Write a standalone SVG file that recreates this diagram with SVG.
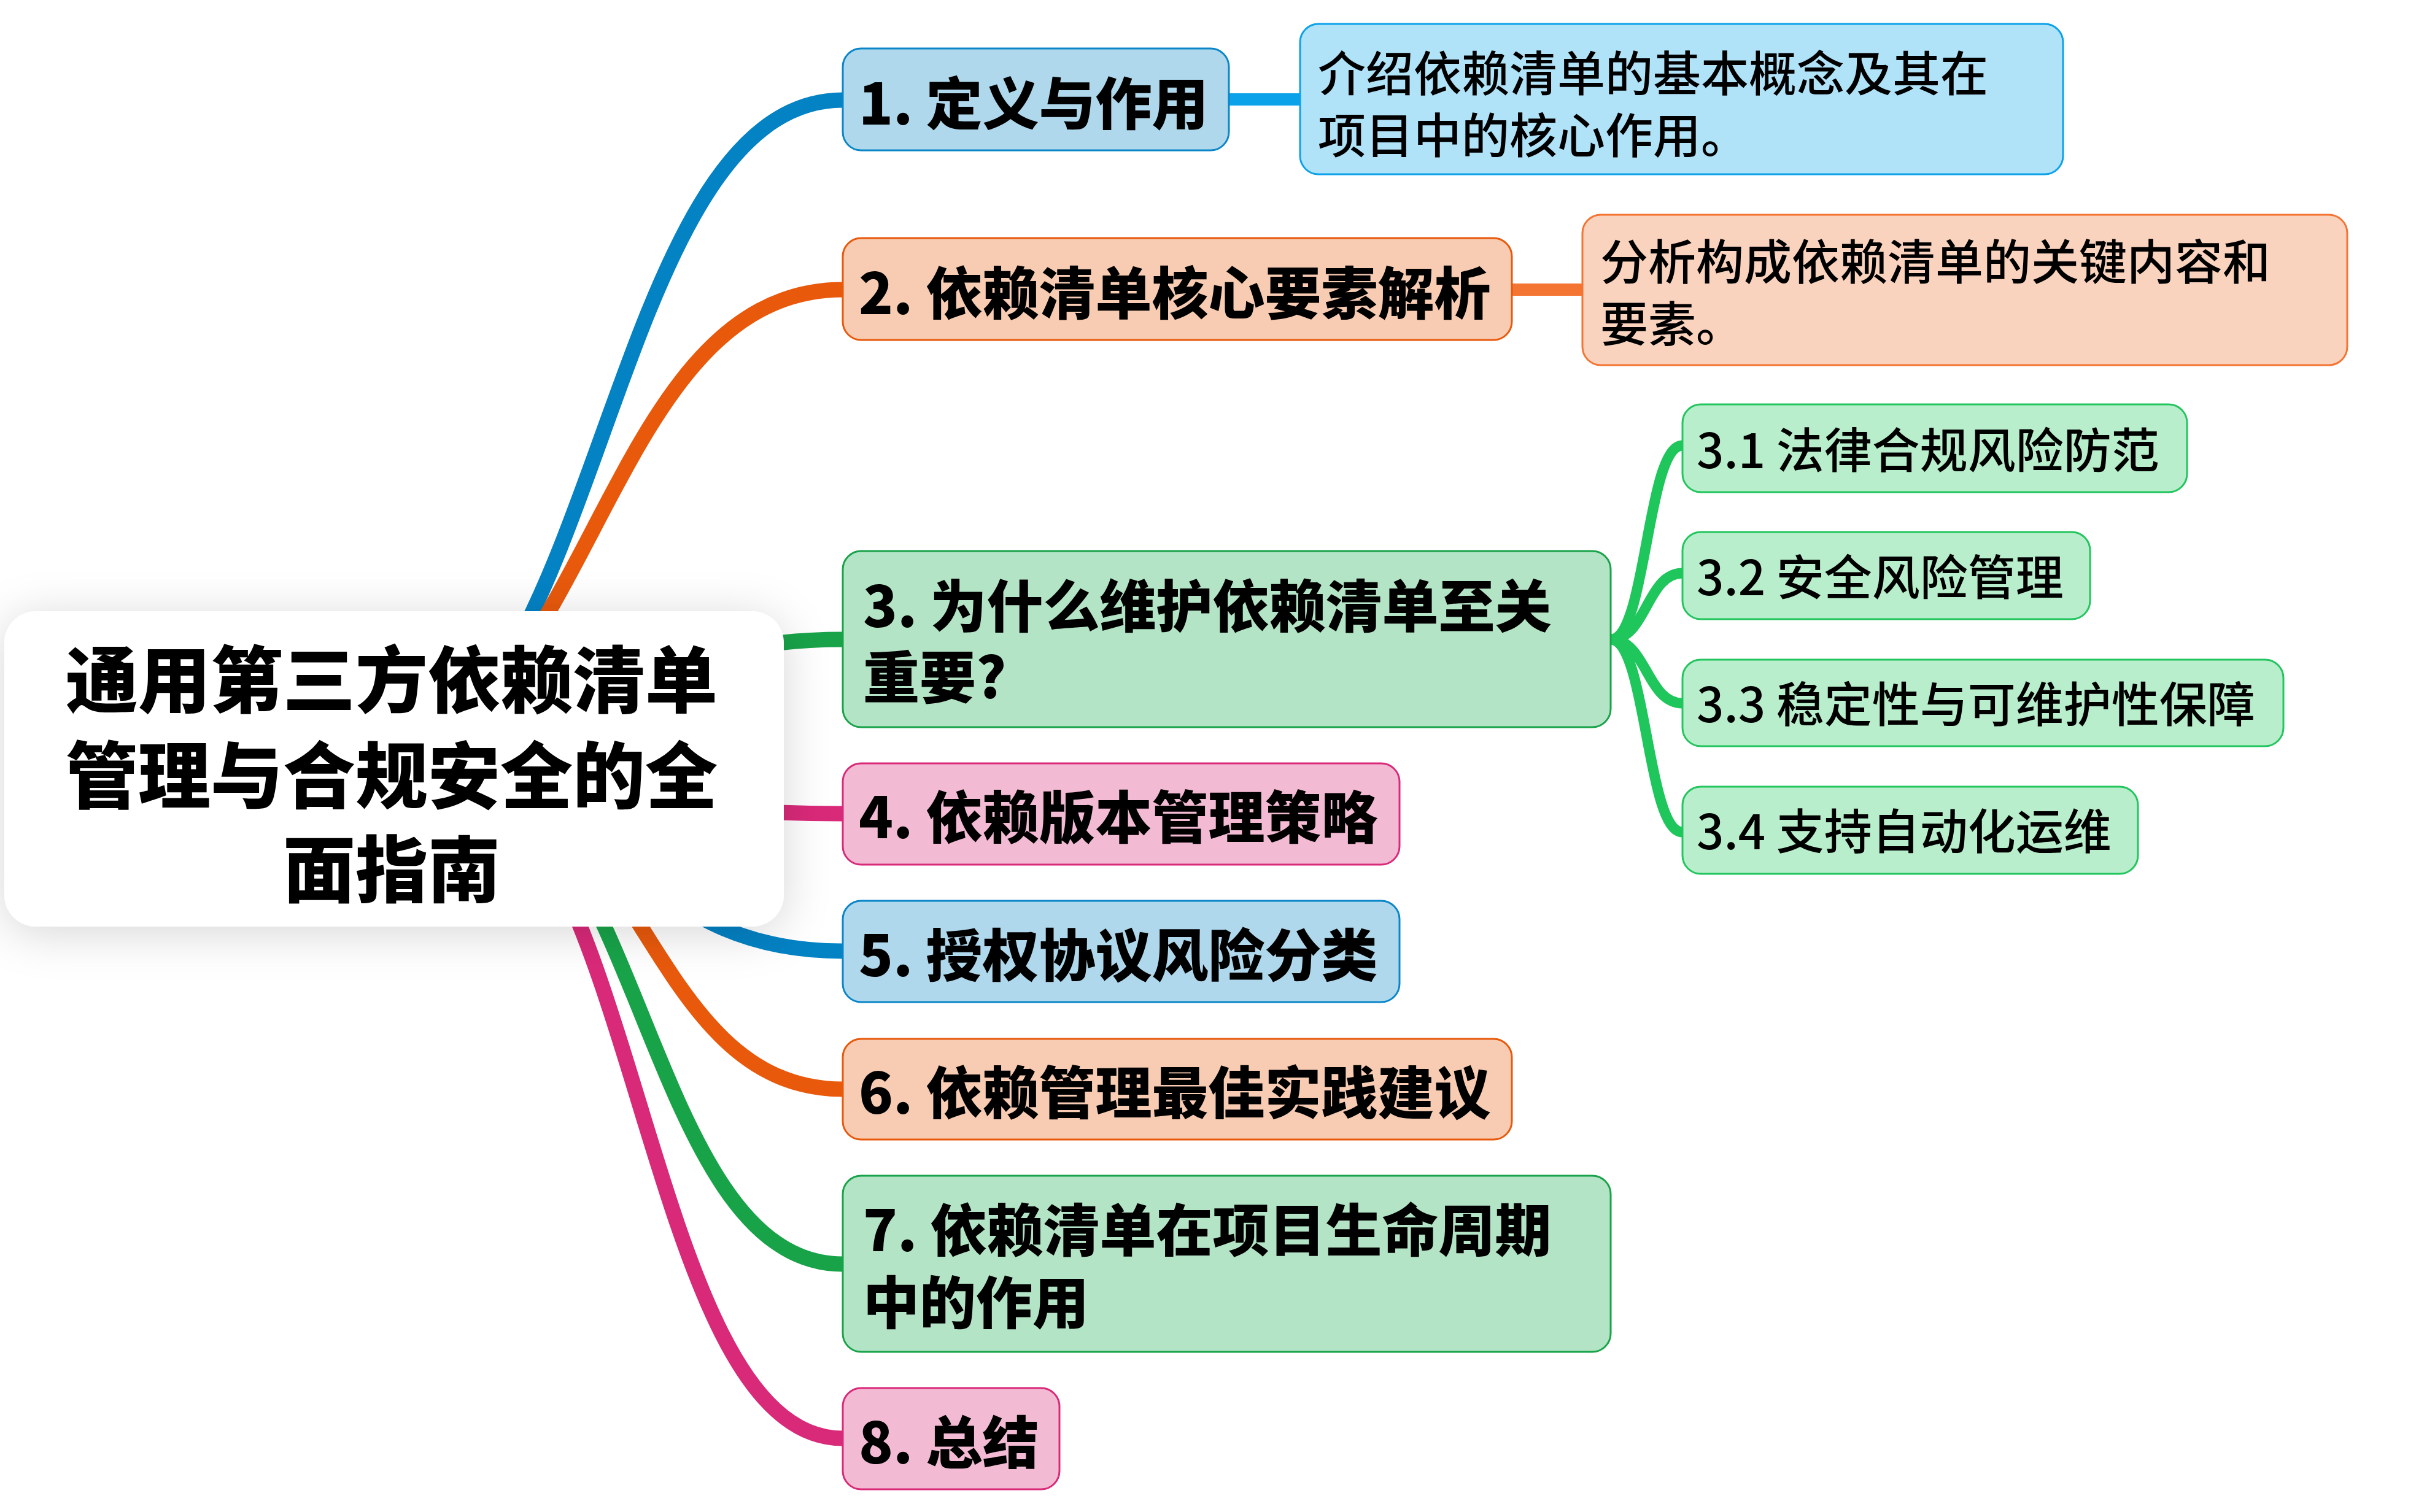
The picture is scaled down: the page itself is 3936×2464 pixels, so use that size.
<svg xmlns="http://www.w3.org/2000/svg" width="3936" height="2464" viewBox="0 0 3936 2464">
<defs>
<filter id="shadow" x="-20%" y="-40%" width="140%" height="180%">
<feDropShadow dx="0" dy="10" stdDeviation="38" flood-color="#000" flood-opacity="0.16"/>
</filter>
<style>
.t{font-family:"Noto Sans CJK SC","Noto Sans",sans-serif;fill:#000}
.main{font-size:92px;font-weight:900}
.desc{font-size:78px;font-weight:500}
.sub{font-size:78px;font-weight:500}
.root{font-size:118px;font-weight:900}
.lk{fill:none;stroke-width:25}
.sl{fill:none;stroke:#1ec65c;stroke-width:17}
.blue{fill:#afd8ec;stroke:#0a86c8;stroke-width:3}
.orange{fill:#f8ccb3;stroke:#e8590c;stroke-width:3}
.green{fill:#b4e4c6;stroke:#18a349;stroke-width:3}
.pink{fill:#f3bad3;stroke:#d92979;stroke-width:3}
.dblue{fill:#b0e2f8;stroke:#0ba2ea;stroke-width:3}
.dorange{fill:#fad3bf;stroke:#f47432;stroke-width:3}
.subg{fill:#b8eecb;stroke:#22c55e;stroke-width:3}
</style>
</defs>
<rect width="3936" height="2464" fill="#ffffff"/>
<g id="connectors">
<path class="lk" stroke="#0382c4" d="M590,1253 C981.5,1253 981.5,163 1373,163"/>
<path class="lk" stroke="#e8590c" d="M560,1253 C966.5,1253 966.5,472 1373,472"/>
<path class="lk" stroke="#18a349" d="M590,1253 C981.5,1253 981.5,1042 1373,1042"/>
<path class="lk" stroke="#d92979" d="M590,1253 C981.5,1253 981.5,1326 1373,1326"/>
<path class="lk" stroke="#0382c4" d="M650,1253 C1011.5,1253 1011.5,1550 1373,1550"/>
<path class="lk" stroke="#e8590c" d="M720,1253 C1046.5,1253 1046.5,1775 1373,1775"/>
<path class="lk" stroke="#18a349" d="M720,1253 C1046.5,1253 1046.5,2060 1373,2060"/>
<path class="lk" stroke="#d92979" d="M710,1253 C1041.5,1253 1041.5,2344 1373,2344"/>
<path fill="none" stroke="#0ba2ea" stroke-width="20" d="M2002,162 L2118,162"/>
<path fill="none" stroke="#f47432" stroke-width="20" d="M2463,472 L2578,472"/>
<path class="sl" d="M2624,1042 C2682.5,1042 2682.5,726 2741,726"/>
<path class="sl" d="M2624,1042 C2682.5,1042 2682.5,934 2741,934"/>
<path class="sl" d="M2624,1042 C2682.5,1042 2682.5,1146 2741,1146"/>
<path class="sl" d="M2624,1042 C2682.5,1042 2682.5,1356 2741,1356"/>
</g>
<g id="root">
<rect x="7" y="996" width="1270" height="514" rx="52" fill="#ffffff" filter="url(#shadow)"/>
<text class="t root" text-anchor="middle"><tspan x="638" y="1152">通用第三方依赖清单</tspan><tspan x="638" y="1308">管理与合规安全的全</tspan><tspan x="638" y="1461">面指南</tspan></text>
</g>
<g id="n1">
<rect class="blue" x="1373" y="79" width="629" height="166" rx="30"/>
<text class="t main" x="1399" y="203">1. 定义与作用</text>
</g>
<g id="d1">
<rect class="dblue" x="2118" y="39" width="1243" height="245" rx="30"/>
<text class="t desc"><tspan x="2147" y="149">介绍依赖清单的基本概念及其在</tspan><tspan x="2147" y="250">项目中的核心作用。</tspan></text>
</g>
<g id="n2">
<rect class="orange" x="1373" y="388" width="1090" height="166" rx="30"/>
<text class="t main" x="1399" y="512">2. 依赖清单核心要素解析</text>
</g>
<g id="d2">
<rect class="dorange" x="2578" y="350" width="1246" height="245" rx="30"/>
<text class="t desc"><tspan x="2607" y="456">分析构成依赖清单的关键内容和</tspan><tspan x="2607" y="557">要素。</tspan></text>
</g>
<g id="n3">
<rect class="green" x="1373" y="898" width="1251" height="287" rx="30"/>
<text class="t main"><tspan x="1406" y="1022">3. 为什么维护依赖清单至关</tspan><tspan x="1406" y="1138">重要?</tspan></text>
</g>
<g id="n31">
<rect class="subg" x="2741" y="659" width="822" height="143" rx="30"/>
<text class="t sub" x="2764" y="763">3.1 法律合规风险防范</text>
</g>
<g id="n32">
<rect class="subg" x="2741" y="867" width="664" height="142" rx="30"/>
<text class="t sub" x="2764" y="970">3.2 安全风险管理</text>
</g>
<g id="n33">
<rect class="subg" x="2741" y="1075" width="979" height="141" rx="30"/>
<text class="t sub" x="2764" y="1177">3.3 稳定性与可维护性保障</text>
</g>
<g id="n34">
<rect class="subg" x="2741" y="1282" width="742" height="142" rx="30"/>
<text class="t sub" x="2764" y="1384">3.4 支持自动化运维</text>
</g>
<g id="n4">
<rect class="pink" x="1373" y="1244" width="907" height="165" rx="30"/>
<text class="t main" x="1399" y="1366">4. 依赖版本管理策略</text>
</g>
<g id="n5">
<rect class="blue" x="1373" y="1468" width="907" height="165" rx="30"/>
<text class="t main" x="1399" y="1591">5. 授权协议风险分类</text>
</g>
<g id="n6">
<rect class="orange" x="1373" y="1693" width="1090" height="164" rx="30"/>
<text class="t main" x="1399" y="1815">6. 依赖管理最佳实践建议</text>
</g>
<g id="n7">
<rect class="green" x="1373" y="1916" width="1251" height="287" rx="30"/>
<text class="t main"><tspan x="1406" y="2039">7. 依赖清单在项目生命周期</tspan><tspan x="1406" y="2157">中的作用</tspan></text>
</g>
<g id="n8">
<rect class="pink" x="1373" y="2262" width="353" height="165" rx="30"/>
<text class="t main" x="1399" y="2385">8. 总结</text>
</g>
</svg>
